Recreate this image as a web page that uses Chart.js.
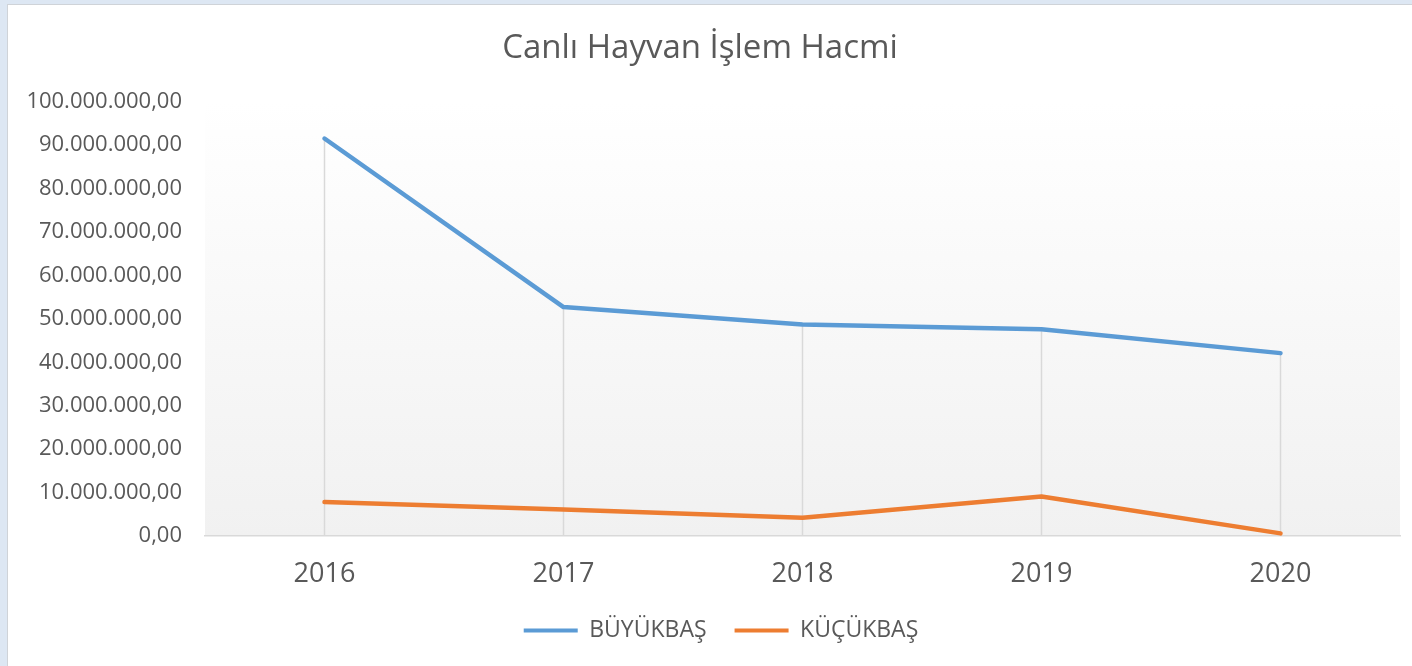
<!DOCTYPE html>
<html>
<head>
<meta charset="utf-8">
<script src="https://cdn.jsdelivr.net/npm/chart.js@4"></script>
<style>
  html, body { margin: 0; padding: 0; }
  body { width: 1412px; height: 666px; background: #dde7f3; position: relative; overflow: hidden; font-family: "Open Sans", sans-serif; }
  #box { position: absolute; left: 7px; top: 4px; right: 0; bottom: 0; background: #ffffff; border-left: 1px solid #cfd3d8; border-top: 1px solid #cfd3d8; }
  canvas { position: absolute; left: 0; top: 0; }
</style>
</head>
<body>
<div id="box"></div>
<canvas id="c" width="1412" height="666"></canvas>
<script>
const titleText = "Canlı Hayvan İşlem Hacmi";
const years = ["2016", "2017", "2018", "2019", "2020"];
const buyukbas = [91500000, 52700000, 48700000, 47600000, 42100000];
const kucukbas = [7800000, 6100000, 4200000, 9100000, 600000];
const seriesNames = ["BÜYÜKBAŞ", "KÜÇÜKBAŞ"];
const yMin = 0, yMax = 100000000, yStep = 10000000;

function fmt(v) {
  const s = Math.round(v).toString().replace(/\B(?=(\d{3})+(?!\d))/g, ".");
  return s + ",00";
}

const textColor = "#595959";

const bgPlugin = {
  id: "plotBg",
  beforeDraw(chart) {
    const { ctx, chartArea: a } = chart;
    const g = ctx.createLinearGradient(0, a.top, 0, a.bottom);
    g.addColorStop(0, "#ffffff");
    g.addColorStop(1, "#f1f1f1");
    ctx.save();
    ctx.fillStyle = g;
    ctx.fillRect(a.left, a.top, a.right - a.left, a.bottom - a.top);
    ctx.restore();
  }
};

const legendShift = {
  id: "legendShift",
  afterLayout(chart) {
    if (chart.legend) { chart.legend.left += 21; chart.legend.right += 21; }
  }
};

const dropPlugin = {
  id: "dropLines",
  beforeDatasetsDraw(chart) {
    const { ctx, chartArea: a, scales } = chart;
    const n = chart.data.labels.length;
    ctx.save();
    ctx.strokeStyle = "#d9d9d9";
    ctx.lineWidth = 1.5;
    for (let i = 0; i < n; i++) {
      let m = -Infinity;
      chart.data.datasets.forEach(ds => { if (ds.data[i] > m) m = ds.data[i]; });
      const x = scales.x.getPixelForValue(i);
      const y = scales.y.getPixelForValue(m);
      ctx.beginPath();
      ctx.moveTo(x, y);
      ctx.lineTo(x, a.bottom);
      ctx.stroke();
    }
    ctx.restore();
  }
};

new Chart(document.getElementById("c"), {
  type: "line",
  data: {
    labels: years,
    datasets: [
      { label: seriesNames[0], data: buyukbas, borderColor: "#5b9bd5", backgroundColor: "#5b9bd5", borderWidth: 4.5, pointRadius: 0, pointHoverRadius: 0, tension: 0, borderCapStyle: "round", borderJoinStyle: "round" },
      { label: seriesNames[1], data: kucukbas, borderColor: "#ed7d31", backgroundColor: "#ed7d31", borderWidth: 4.5, pointRadius: 0, pointHoverRadius: 0, tension: 0, borderCapStyle: "round", borderJoinStyle: "round" }
    ]
  },
  options: {
    responsive: false,
    animation: false,
    events: [],
    layout: { padding: { left: 0, right: 12, top: 0, bottom: 14 } },
    plugins: {
      title: {
        display: true,
        text: titleText,
        color: textColor,
        font: { family: "Open Sans", size: 33, weight: "normal", lineHeight: 1.2 },
        padding: { top: 29, bottom: 33 }
      },
      legend: {
        position: "bottom",
        labels: {
          color: textColor,
          font: { family: "Open Sans", size: 23 },
          boxWidth: 54,
          boxHeight: 4,
          padding: 28,
          generateLabels(chart) {
            return chart.data.datasets.map((ds, i) => ({
              text: ds.label, fillStyle: ds.borderColor, strokeStyle: ds.borderColor,
              lineWidth: 0, hidden: false, datasetIndex: i, fontColor: textColor
            }));
          }
        }
      },
      tooltip: { enabled: false }
    },
    scales: {
      x: {
        offset: true,
        grid: { display: false, drawTicks: false },
        border: { display: true, color: "#d9d9d9", width: 1.5 },
        ticks: { color: textColor, font: { family: "Open Sans", size: 27 }, padding: 22 },
        afterFit(s) { s.height = 55; }
      },
      y: {
        min: yMin, max: yMax,
        grid: { display: false, drawTicks: false },
        border: { display: false },
        ticks: { stepSize: yStep, color: textColor, font: { family: "Open Sans", size: 22 }, padding: 23, callback: v => fmt(v) },
        afterFit(s) { s.width = 205; }
      }
    }
  },
  plugins: [bgPlugin, dropPlugin, legendShift]
});
</script>
</body>
</html>
